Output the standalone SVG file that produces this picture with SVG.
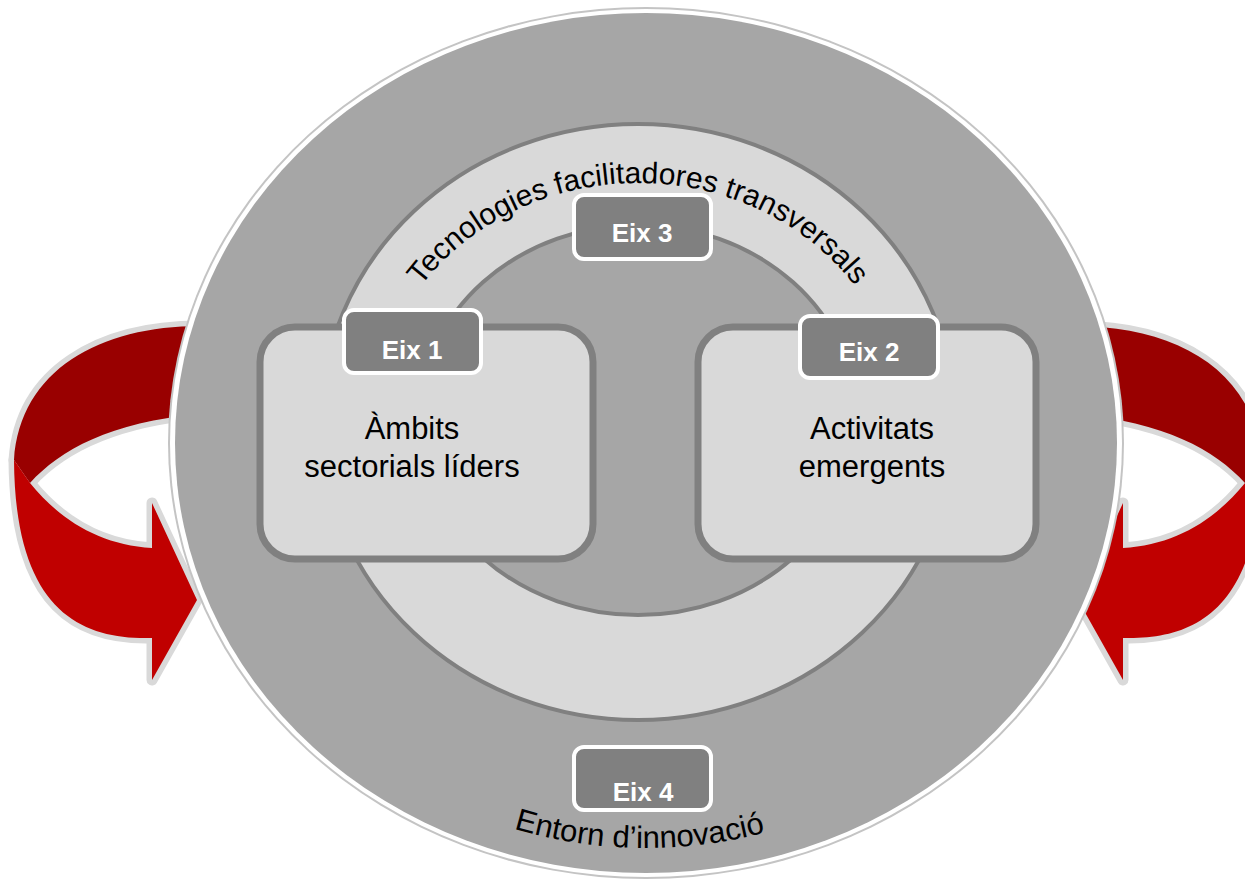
<svg xmlns="http://www.w3.org/2000/svg" width="1245" height="887" viewBox="0 0 1245 887">
<style>
.lbl{font-family:"Liberation Sans",Arial,sans-serif;font-size:31px;fill:#000;text-anchor:middle}
.arc{font-size:30px}
.eix{font-family:"Liberation Sans",Arial,sans-serif;font-size:26px;font-weight:bold;fill:#fff;text-anchor:middle}
.tag{fill:#808080;stroke:#fff;stroke-width:4}
.box{fill:#d9d9d9;stroke:#808080;stroke-width:7}
.ring{stroke:#808080;stroke-width:4}
.outline{fill:none;stroke:#d9d9d9;stroke-width:11;stroke-linejoin:round}
</style>
<defs>
<path id="darkBand" d="M 200 326 C 100 326, 20 370, 14 460 L 30 483 C 60 450, 110 422, 200 414 Z"/>
<path id="brightBand" d="M 14 460 L 30 483 C 60 520, 100 545, 152 548 L 152 503 L 197 600 L 152 680 L 152 638 C 80 640, 15 610, 14 460 Z"/>
<g id="ribbon">
<use href="#darkBand" class="outline"/>
<use href="#brightBand" class="outline"/>
<use href="#darkBand" fill="#990000"/>
<use href="#brightBand" fill="#c00000"/>
</g>
<path id="topArc" d="M 373 425 A 265 242 0 0 1 903 425"/>
<path id="bottomArc" d="M 212 443 A 434 405 0 0 0 1080 443"/>
</defs>
<g id="connectors">
<use href="#ribbon"/>
<use href="#ribbon" transform="matrix(-1 0 0 1 1275 0)"/>
</g>
<g id="eix4-environment">
<ellipse cx="646" cy="443" rx="478" ry="436" fill="#c4c4c4"/>
<ellipse cx="646" cy="443" rx="476" ry="434" fill="#ffffff"/>
<ellipse cx="646" cy="443" rx="471" ry="430" fill="#a6a6a6"/>
<text class="lbl"><textPath href="#bottomArc" startOffset="49.5%">Entorn d’innovació</textPath></text>
</g>
<g id="eix3-ring">
<ellipse cx="638" cy="422" rx="317" ry="298" fill="#d9d9d9" class="ring"/>
<ellipse cx="638" cy="420" rx="219" ry="195" fill="#a6a6a6" class="ring"/>
<text class="lbl arc"><textPath href="#topArc" startOffset="50%">Tecnologies facilitadores transversals</textPath></text>
</g>
<g id="eix1">
<rect x="260" y="327" width="333" height="232" rx="35" class="box"/>
<text class="lbl" x="412" y="439">Àmbits</text>
<text class="lbl" x="412" y="477">sectorials líders</text>
<rect x="344" y="310" width="137" height="63" rx="10" class="tag"/>
<text class="eix" x="412" y="359">Eix 1</text>
</g>
<g id="eix2">
<rect x="698" y="327" width="338" height="232" rx="35" class="box"/>
<text class="lbl" x="872" y="439">Activitats</text>
<text class="lbl" x="872" y="477">emergents</text>
<rect x="800" y="316" width="138" height="62" rx="10" class="tag"/>
<text class="eix" x="869" y="361">Eix 2</text>
</g>
<g id="eix3">
<rect x="574" y="195" width="137" height="64" rx="10" class="tag"/>
<text class="eix" x="642" y="242">Eix 3</text>
</g>
<g id="eix4">
<rect x="574" y="747" width="137" height="63" rx="10" class="tag"/>
<text class="eix" x="643" y="801">Eix 4</text>
</g>
</svg>
